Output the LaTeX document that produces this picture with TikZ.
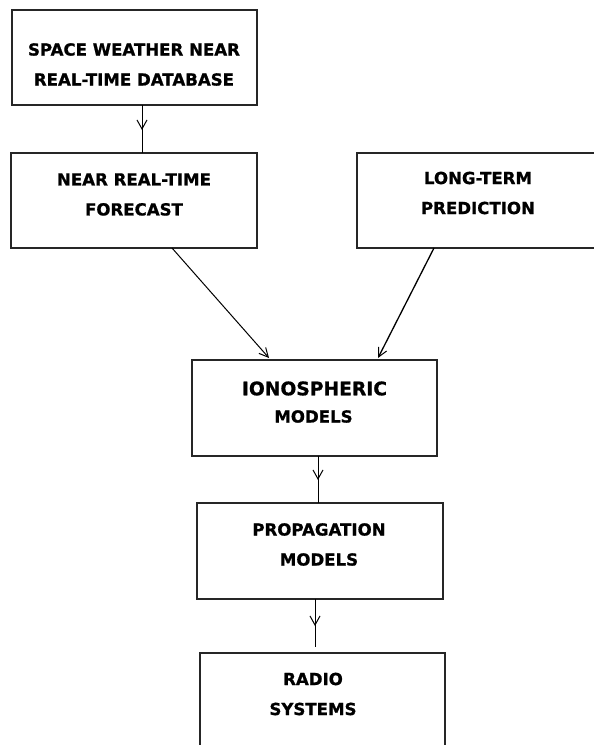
\documentclass[tikz,border=0pt]{standalone}
\usepackage{fontspec}
\newfontfamily\lblfont{DejaVu Sans Bold}[FakeBold=1]
\usetikzlibrary{arrows.meta,decorations.markings}
\tikzset{
  boxnode/.style={draw=black!85, line width=1.6pt, rectangle, inner sep=0pt, outer sep=0pt},
  lbl/.style={font=\lblfont\fontsize{16.6}{30}\selectfont, align=center, inner sep=0pt},
  biglbl/.style={font=\lblfont\fontsize{18.7}{24}\selectfont, inner sep=0pt},
  conn/.style={line width=1pt, draw=black},
  tip/.style={-{Straight Barb[length=9pt,width=9pt,line width=1pt]}},
  midarrow/.style={postaction={decorate}, decoration={markings, mark=at position #1 with {\arrow{Straight Barb[length=9pt,width=10pt,line width=1pt]}}}}
}
\begin{document}
\begin{tikzpicture}[x=1pt,y=-1pt]
\clip (0,0) rectangle (594,745);
\fill[white] (0,0) rectangle (594,745);
% boxes
\node[boxnode, minimum width=245pt, minimum height=95pt] (b1) at (134.5,57.5) {};
\node[boxnode, minimum width=246pt, minimum height=95pt] (b2) at (134,200.5) {};
\node[boxnode, minimum width=263pt, minimum height=95pt] (b3) at (488.5,200.5) {};
\node[boxnode, minimum width=245pt, minimum height=96pt] (b4) at (314.5,408) {};
\node[boxnode, minimum width=246pt, minimum height=96pt] (b5) at (320,551) {};
\node[boxnode, minimum width=245pt, minimum height=107pt] (b6) at (322.5,706.5) {};
% texts
\node[lbl] (t1) at (134,64.5) {SPACE WEATHER NEAR\\REAL-TIME DATABASE};
\node[lbl] (t2) at (134,194.5) {NEAR REAL-TIME\\FORECAST};
\node[lbl] (t3) at (478,193) {LONG-TERM\\PREDICTION};
\node[biglbl] (t4a) at (314.5,388.5) {IONOSPHERIC};
\node[lbl] (t4b) at (313.5,416.5) {MODELS};
\node[lbl] (t5) at (319,544.5) {PROPAGATION\\MODELS};
\node[lbl] (t6) at (313,694) {RADIO\\SYSTEMS};
% connector anchors
\coordinate (x1) at (142,0);
\coordinate (x2s) at (172,0);
\coordinate (x2e) at (269,0);
\coordinate (x3s) at (434,0);
\coordinate (x3e) at (378,0);
\coordinate (x4) at (318,0);
\coordinate (x5) at (315,0);
% connectors
\draw[conn, midarrow=0.52] (b1.south -| x1) -- (b2.north -| x1);
\draw[conn, tip] (b2.south -| x2s) -- ([yshift=2pt]b4.north -| x2e);
\draw[conn, tip, line width=1.3pt] (b3.south -| x3s) -- ([yshift=2pt]b4.north -| x3e);
\draw[conn, midarrow=0.51] (b4.south -| x4) -- (b5.north -| x4);
\draw[conn, midarrow=0.5, shorten >=6pt] (b5.south -| x5) -- (b6.north -| x5);
\end{tikzpicture}
\end{document}
